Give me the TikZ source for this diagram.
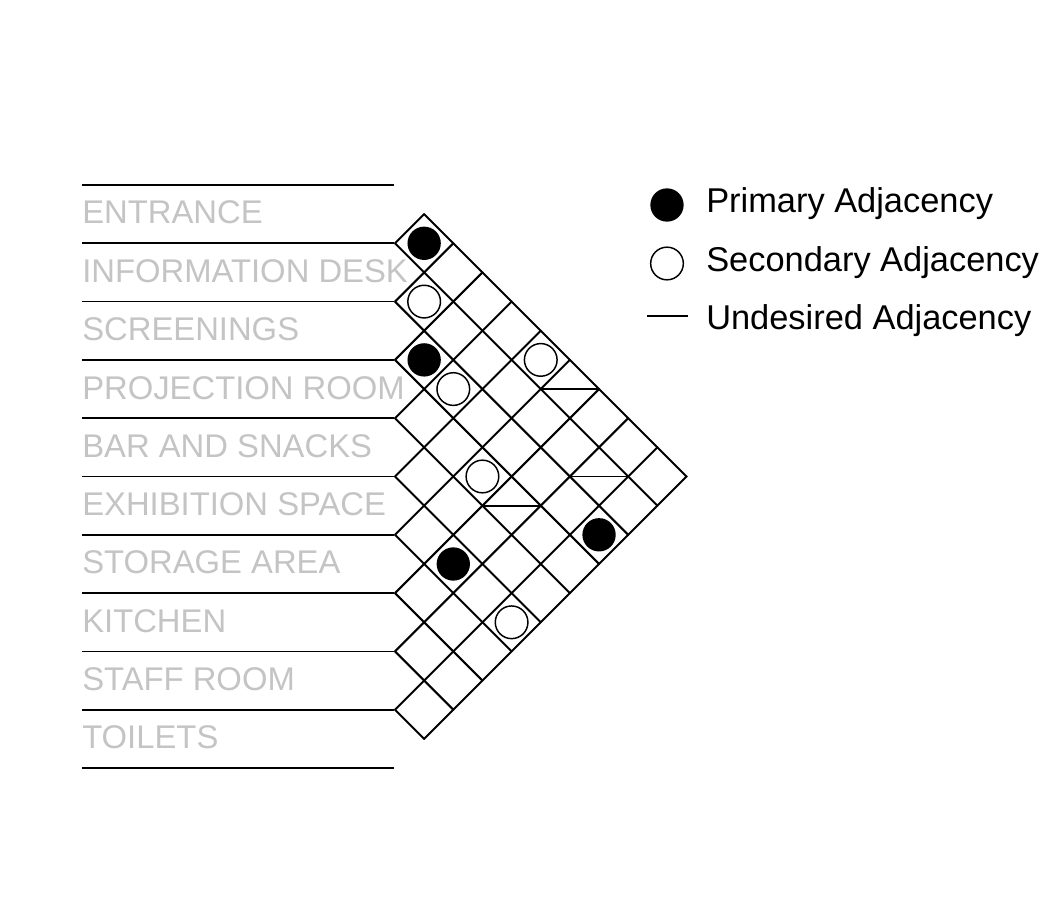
\documentclass[tikz,border=0pt]{standalone}
\usepackage{fontspec}
\setmainfont{Liberation Sans}

\definecolor{labelgray}{RGB}{196,196,196}

\tikzset{
  room/.style={anchor=base west, inner sep=0pt, text=labelgray, font=\fontsize{24.6pt}{29pt}\selectfont},
  legendtext/.style={anchor=base west, inner sep=0pt, font=\fontsize{25.8pt}{30pt}\selectfont},
  primary/.style={circle, fill=black, minimum size=25pt, inner sep=0pt},
  secondary/.style={circle, draw=black, line width=1.1pt, fill=white, minimum size=24.5pt, inner sep=0pt},
  gridline/.style={line width=1.5pt, line cap=round, line join=miter},
  rowline/.style={line width=1.3pt},
  undesired/.style={line width=1.4pt}
}

\begin{document}
\begin{tikzpicture}[x=0.75pt,y=-0.75pt]
\useasboundingbox (0,0) rectangle (1058,905);

% room names
\node[room] (entrance) at (82,224) {ENTRANCE};
\node[room] (info) at (82,282.5) {INFORMATION DESK};
\node[room] (screenings) at (82,340.8) {SCREENINGS};
\node[room] (projection) at (82,399.1) {PROJECTION ROOM};
\node[room] (bar) at (82,457.4) {BAR AND SNACKS};
\node[room] (exhibition) at (82,515.7) {EXHIBITION SPACE};
\node[room] (storage) at (82,574) {STORAGE AREA};
\node[room] (kitchen) at (82,632.3) {KITCHEN};
\node[room] (staff) at (82,690.6) {STAFF ROOM};
\node[room] (toilets) at (82,748.9) {TOILETS};

% row lines
\foreach \k in {0,...,10}
  \draw[rowline] (82,{185+58.3*\k}) -- (394,{185+58.3*\k});

% diamond grid
\foreach \k in {1,...,9} {
  \draw[gridline] (395,{185+58.3*\k}) -- ++({29.15*\k},{-29.15*\k});
  \draw[gridline] (395,{185+58.3*\k}) -- ++({29.15*(10-\k)},{29.15*(10-\k)});
}
\coordinate (tip) at (686.5,476.5);
\draw[gridline] (424.15,214.15) -- (tip) -- (424.15,738.85);

% adjacencies
\node[primary] (entinfo) at (424.15,243.3) {};
\node[secondary] (infoscreen) at (424.15,301.6) {};
\node[primary] (screenproj) at (424.15,359.9) {};
\node[secondary] (screenbar) at (453.3,389.05) {};
\node[secondary] (entexhib) at (540.75,359.9) {};
\node[secondary] (projstore) at (482.45,476.5) {};
\node[primary] (exhibkitchen) at (453.3,564) {};
\node[primary] (screentoilet) at (599.05,534.8) {};
\node[secondary] (exhibtoilet) at (511.6,622.3) {};

\draw[undesired] (540.75,389.05) -- (599.05,389.05);
\draw[undesired] (482.45,505.65) -- (540.75,505.65);
\draw[undesired] (569.9,476.5) -- (628.2,476.5);

% legend
\node[primary] (keyprimary) at (667,205) {};
\node[secondary] (keysecondary) at (667,263.5) {};
\coordinate (keyleft) at (647,316);
\coordinate (keyright) at (688,316);
\draw[undesired] (keyleft) -- (keyright);
\node[legendtext] (primarytext) at (706,213) {Primary Adjacency};
\node[legendtext] (secondarytext) at (706,272) {Secondary Adjacency};
\node[legendtext] (undesiredtext) at (706,330) {Undesired Adjacency};

\end{tikzpicture}
\end{document}
